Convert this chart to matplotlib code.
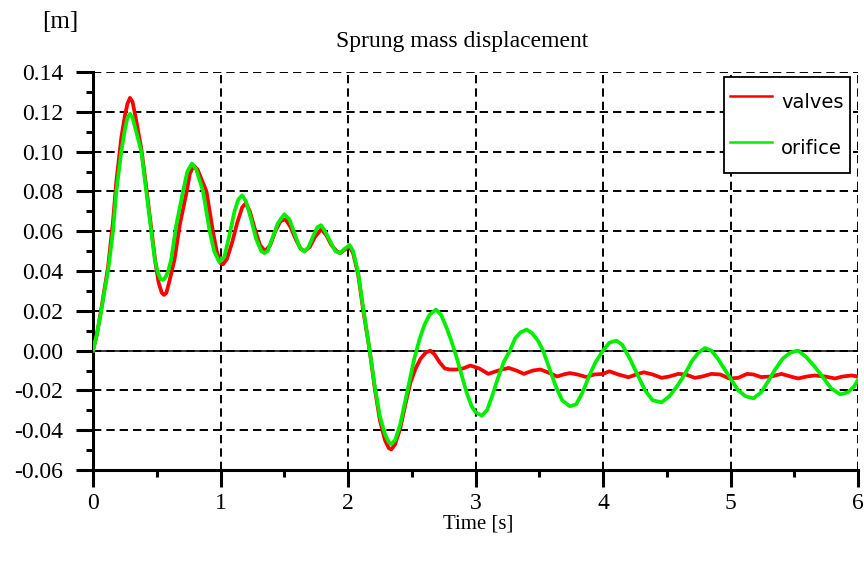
import matplotlib
matplotlib.use("Agg")
import matplotlib.pyplot as plt
from matplotlib.ticker import MultipleLocator, FixedLocator

# ---- data ----
t_orifice = [0.00, 0.03, 0.065, 0.09, 0.118, 0.157, 0.183, 0.222, 0.25, 0.27, 0.29, 0.31, 0.335, 0.379,
             0.418, 0.457, 0.484, 0.51, 0.53, 0.55, 0.57, 0.59, 0.614, 0.653, 0.706, 0.74, 0.776, 0.81,
             0.863, 0.915, 0.95, 0.99, 1.03, 1.07, 1.11, 1.14, 1.17, 1.20, 1.24, 1.28, 1.32, 1.344, 1.37,
             1.41, 1.45, 1.50, 1.54, 1.58, 1.62, 1.657, 1.69, 1.73, 1.76, 1.788, 1.82, 1.86, 1.90, 1.937,
             1.97, 2.013, 2.04, 2.08, 2.12, 2.17, 2.21, 2.25, 2.29, 2.32, 2.34, 2.37, 2.41, 2.45, 2.48,
             2.52, 2.56, 2.60, 2.64, 2.69, 2.73, 2.77, 2.81, 2.85, 2.89, 2.93, 2.97, 3.00, 3.05, 3.09,
             3.13, 3.17, 3.22, 3.27, 3.31, 3.35, 3.40, 3.44, 3.49, 3.53, 3.58, 3.63, 3.68, 3.74, 3.79,
             3.84, 3.89, 3.94, 4.00, 4.05, 4.105, 4.15, 4.21, 4.27, 4.33, 4.39, 4.46, 4.52, 4.58, 4.64,
             4.70, 4.75, 4.80, 4.85, 4.90, 4.95, 5.00, 5.06, 5.12, 5.18, 5.24, 5.30, 5.35, 5.41, 5.47,
             5.53, 5.59, 5.66, 5.72, 5.79, 5.86, 5.92, 5.97, 6.00]
y_orifice = [0.000, 0.008, 0.020, 0.030, 0.040, 0.060, 0.080, 0.100, 0.111, 0.117, 0.119, 0.117, 0.111, 0.100,
             0.080, 0.060, 0.046, 0.039, 0.036, 0.0355, 0.037, 0.040, 0.046, 0.063, 0.080, 0.090, 0.094, 0.091,
             0.080, 0.060, 0.050, 0.0445, 0.047, 0.058, 0.070, 0.076, 0.078, 0.075, 0.066, 0.056, 0.050, 0.049, 0.050,
             0.057, 0.064, 0.0685, 0.066, 0.059, 0.052, 0.0497, 0.052, 0.058, 0.062, 0.063, 0.060, 0.055, 0.050, 0.049,
             0.051, 0.053, 0.050, 0.039, 0.021, 0.000, -0.018, -0.033, -0.042, -0.046, -0.047, -0.045, -0.037, -0.025, -0.016,
             -0.004, 0.0055, 0.013, 0.018, 0.0206, 0.018, 0.012, 0.005, -0.003, -0.012, -0.021, -0.028, -0.031, -0.0327, -0.030,
             -0.023, -0.015, -0.006, 0.000, 0.006, 0.009, 0.0106, 0.009, 0.005, 0.000, -0.009, -0.018, -0.025, -0.028, -0.027,
             -0.021, -0.013, -0.006, 0.000, 0.004, 0.005, 0.003, -0.004, -0.012, -0.020, -0.025, -0.026, -0.023, -0.018, -0.012,
             -0.005, -0.001, 0.0013, 0.000, -0.004, -0.009, -0.014, -0.020, -0.023, -0.024, -0.021, -0.015, -0.0095, -0.004, -0.001,
             0.000, -0.003, -0.008, -0.013, -0.019, -0.022, -0.021, -0.018, -0.0146]

t_valves = [0.00, 0.03, 0.065, 0.09, 0.118, 0.157, 0.183, 0.222, 0.25, 0.27, 0.29, 0.31, 0.335, 0.38,
            0.42, 0.46, 0.49, 0.515, 0.54, 0.557, 0.575, 0.60, 0.64, 0.68, 0.735, 0.76, 0.79, 0.82,
            0.89, 0.94, 0.97, 1.00, 1.02, 1.05, 1.09, 1.13, 1.17, 1.198, 1.23, 1.27, 1.31, 1.35, 1.39,
            1.43, 1.47, 1.51, 1.55, 1.59, 1.63, 1.66, 1.70, 1.74, 1.79, 1.83, 1.87, 1.91, 1.94, 1.98,
            2.013, 2.04, 2.08, 2.12, 2.17, 2.21, 2.25, 2.29, 2.32, 2.34, 2.37, 2.41, 2.45, 2.49, 2.53,
            2.57, 2.61, 2.646, 2.68, 2.72, 2.76, 2.80, 2.85, 2.90, 2.96, 3.03, 3.10, 3.18, 3.26, 3.32,
            3.38, 3.45, 3.51, 3.57, 3.64, 3.69, 3.74, 3.80, 3.87, 3.93, 4.00, 4.05, 4.12, 4.20, 4.26,
            4.32, 4.39, 4.46, 4.52, 4.59, 4.65, 4.72, 4.78, 4.85, 4.92, 4.99, 5.06, 5.13, 5.18, 5.24,
            5.32, 5.40, 5.47, 5.53, 5.60, 5.66, 5.74, 5.82, 5.88, 5.95, 6.00]
y_valves = [0.000, 0.008, 0.021, 0.031, 0.042, 0.065, 0.085, 0.107, 0.118, 0.124, 0.127, 0.125, 0.117, 0.101,
            0.081, 0.060, 0.044, 0.034, 0.029, 0.028, 0.029, 0.035, 0.046, 0.063, 0.080, 0.089, 0.093, 0.091,
            0.080, 0.060, 0.050, 0.044, 0.0434, 0.046, 0.054, 0.064, 0.072, 0.074, 0.070, 0.061, 0.053, 0.050, 0.053,
            0.060, 0.065, 0.066, 0.062, 0.056, 0.051, 0.050, 0.052, 0.057, 0.061, 0.058, 0.053, 0.050, 0.049, 0.051,
            0.052, 0.049, 0.038, 0.020, 0.000, -0.019, -0.035, -0.045, -0.049, -0.0497, -0.047, -0.039, -0.027, -0.016, -0.009,
            -0.004, -0.001, 0.000, -0.002, -0.006, -0.009, -0.0095, -0.0095, -0.009, -0.0075, -0.009, -0.0117, -0.010, -0.0087, -0.010,
            -0.0117, -0.010, -0.0095, -0.011, -0.013, -0.012, -0.0113, -0.012, -0.0133, -0.012, -0.0117, -0.0104, -0.012, -0.0134, -0.012,
            -0.0109, -0.012, -0.0137, -0.013, -0.0117, -0.012, -0.0137, -0.013, -0.0117, -0.012, -0.014, -0.0137, -0.0117, -0.012, -0.0133,
            -0.013, -0.0117, -0.013, -0.014, -0.013, -0.0125, -0.013, -0.014, -0.013, -0.0125, -0.013]

x_ticks = [0, 1, 2, 3, 4, 5, 6]
x_tick_labels = ["0", "1", "2", "3", "4", "5", "6"]
y_ticks = [-0.06, -0.04, -0.02, 0.00, 0.02, 0.04, 0.06, 0.08, 0.10, 0.12, 0.14]
y_tick_labels = ["%.2f" % v for v in y_ticks]

title = "Sprung mass displacement"
y_unit = "[m]"
x_label = "Time [s]"
series_names = ["valves", "orifice"]

# ---- figure ----
plt.rcParams['lines.scale_dashes'] = False
fig = plt.figure(figsize=(8.64, 5.61), dpi=100)
ax = fig.add_axes([93/864, 1-470/561, (858-93)/864, (470-72)/561])

serif = ['Liberation Serif', 'DejaVu Serif']

ax.set_xlim(0, 6)
ax.set_ylim(-0.06, 0.14)

ax.xaxis.set_major_locator(FixedLocator(x_ticks))
ax.xaxis.set_minor_locator(MultipleLocator(0.5))
ax.yaxis.set_major_locator(FixedLocator(y_ticks))
ax.yaxis.set_minor_locator(MultipleLocator(0.01))
ax.set_xticklabels(x_tick_labels)
ax.set_yticklabels(y_tick_labels)

for lab in ax.get_xticklabels() + ax.get_yticklabels():
    lab.set_fontfamily(serif)
    lab.set_fontsize(17)

ax.tick_params(which='major', direction='out', length=12.5, width=2.2, color='black')
ax.tick_params(which='minor', direction='out', length=5, width=2.2, color='black')
ax.tick_params(axis='y', which='major', pad=9)
ax.tick_params(axis='x', which='major', pad=4)

for s in ['top', 'right']:
    ax.spines[s].set_visible(False)
for s in ['left', 'bottom']:
    ax.spines[s].set_linewidth(2.2)

ax.grid(True, which='major', color='black', linestyle=(0, (6.0, 3.6)), linewidth=1.4)
ax.set_axisbelow(True)
ax.axhline(0, color='black', linewidth=1.1, zorder=1.5)

ax.plot(t_valves, y_valves, color='#ff0000', linewidth=2.7, label=series_names[0], zorder=3)
ax.plot(t_orifice, y_orifice, color='#00ee00', linewidth=2.7, label=series_names[1], zorder=4)

leg = ax.legend(loc='upper right', bbox_to_anchor=(0.990, 0.988), borderaxespad=0,
                fancybox=False, framealpha=1, edgecolor='black', borderpad=0.35,
                handleheight=2.5, labelspacing=0.5, handlelength=2.15, handletextpad=0.45,
                prop={'family': 'DejaVu Sans', 'size': 14})
leg.get_frame().set_linewidth(1.3)
for h in leg.get_lines():
    h.set_linewidth(1.8)

fig.text(60/864, 1-22/561, y_unit, ha='center', va='center', fontfamily=serif, fontsize=18)
fig.text(462/864, 1-42/561, title, ha='center', va='center', fontfamily=serif, fontsize=17)
fig.text(478/864, 1-524/561, x_label, ha='center', va='center', fontfamily=serif, fontsize=15)

fig.savefig("out.png", dpi=100)
